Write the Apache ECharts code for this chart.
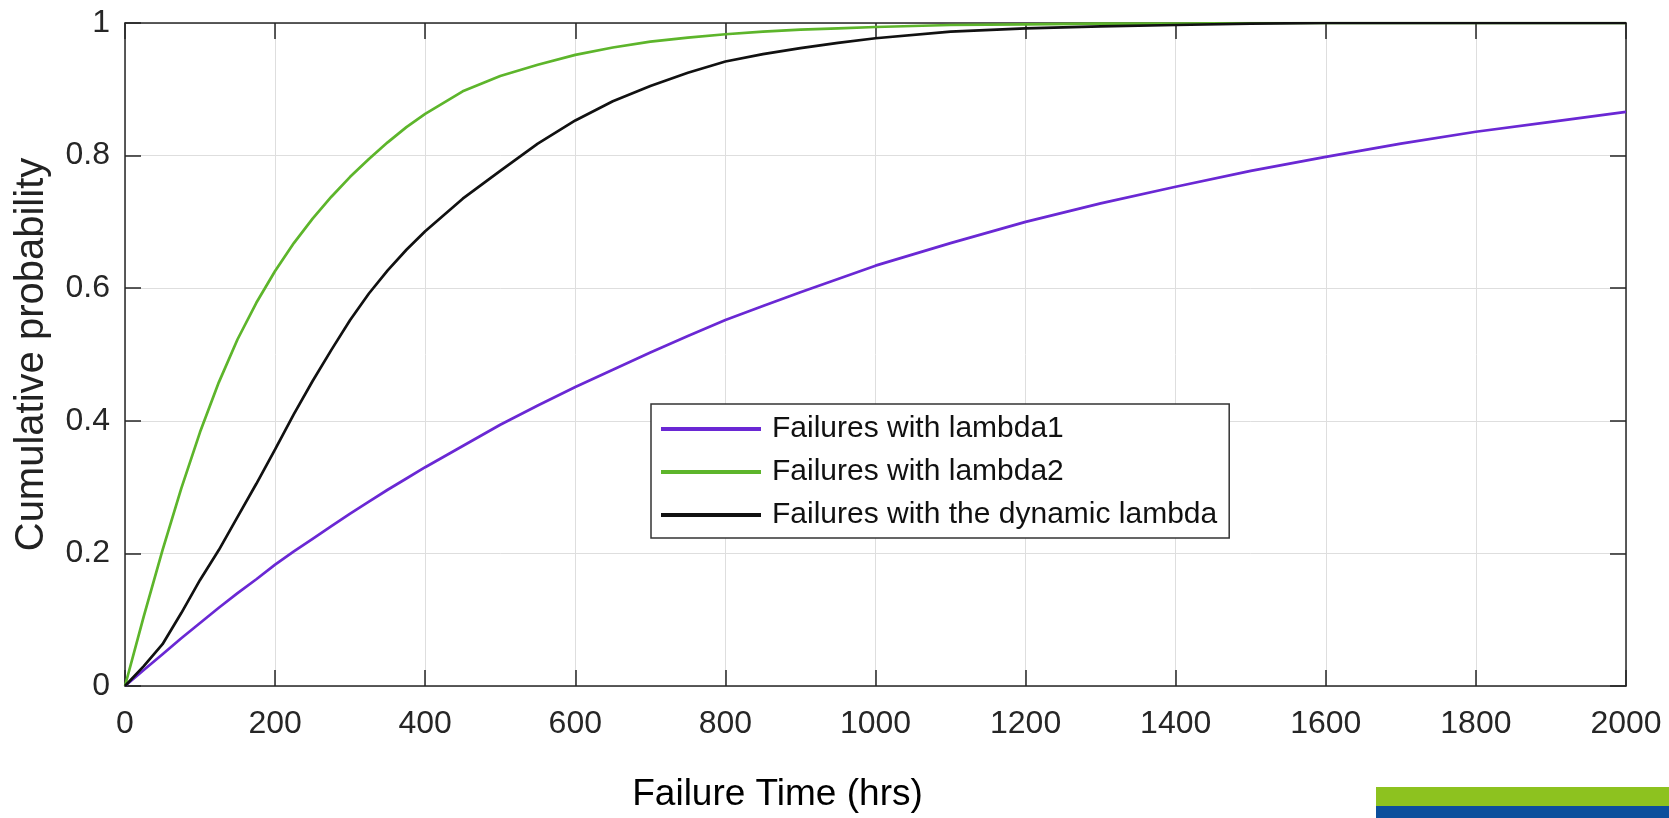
<!DOCTYPE html>
<html style="height: 100%">
    <head>
        <meta charset="utf-8">
        <script src="https://cdn.jsdelivr.net/npm/echarts@6/dist/echarts.min.js"></script>
    </head>
    <body style="height: 100%; margin: 0; background: #fff;">
        <div id="main" style="width: 1669px; height: 818px;"></div>
        <script>
        // failure time grid (hrs) and the three cumulative curves
        var hours = [0, 25, 50, 75, 100, 125, 150, 175, 200, 225, 250, 275, 300, 325, 350, 375, 400,
            450, 500, 550, 600, 650, 700, 750, 800, 850, 900, 950, 1000,
            1100, 1200, 1300, 1400, 1500, 1600, 1700, 1800, 1900, 2000];
        var lambda1 = [0, 0.024, 0.048, 0.072, 0.095, 0.118, 0.14, 0.161, 0.183, 0.203, 0.222, 0.241, 0.26, 0.278, 0.296, 0.313, 0.33,
            0.362, 0.394, 0.423, 0.451, 0.477, 0.503, 0.528, 0.552, 0.573, 0.594, 0.614, 0.634,
            0.668, 0.70, 0.728, 0.753, 0.777, 0.798, 0.818, 0.836, 0.851, 0.866];
        var lambda2 = [0, 0.105, 0.205, 0.298, 0.383, 0.458, 0.523, 0.578, 0.626, 0.668, 0.705, 0.738, 0.768, 0.795, 0.82, 0.843, 0.863,
            0.897, 0.92, 0.937, 0.952, 0.963, 0.972, 0.978, 0.983, 0.987, 0.99, 0.992, 0.994,
            0.997, 0.998, 0.999, 0.999, 1, 1, 1, 1, 1, 1];
        var dynamicLambda = [0, 0.03, 0.063, 0.11, 0.16, 0.205, 0.255, 0.305, 0.357, 0.41, 0.46, 0.507, 0.552, 0.592, 0.627, 0.658, 0.686,
            0.735, 0.777, 0.818, 0.853, 0.882, 0.905, 0.925, 0.942, 0.953, 0.962, 0.97, 0.977,
            0.987, 0.992, 0.995, 0.997, 0.999, 1, 1, 1, 1, 1];
        var seriesNames = ['Failures with lambda1', 'Failures with lambda2', 'Failures with the dynamic lambda'];

        var chart = echarts.init(document.getElementById('main'));

        function pairs(ys) {
            return hours.map(function (h, i) { return [h, ys[i]]; });
        }

        var font = 'Liberation Sans, Arial, sans-serif';
        var axisColor = '#262626';

        function frameAxis(extra) {
            var base = {
                type: 'value',
                axisLine: { show: true, onZero: false, lineStyle: { color: axisColor, width: 1.5 } },
                axisTick: { show: true, inside: true, length: 16, lineStyle: { color: axisColor, width: 1.5 } },
                axisLabel: { show: false },
                splitLine: { show: false }
            };
            return Object.assign(base, extra);
        }

        function plain(v) {
            return String(Math.round(v * 1000) / 1000);
        }

        var option = {
            animation: false,
            backgroundColor: '#fff',
            grid: { left: 125, right: 43, top: 23, bottom: 131 },
            legend: {
                orient: 'vertical',
                left: 651,
                top: 404,
                padding: [10, 12, 8, 10],
                itemWidth: 100,
                itemHeight: 4,
                itemGap: 13,
                icon: 'rect',
                backgroundColor: '#fff',
                borderColor: '#333',
                borderWidth: 1.5,
                borderRadius: 0,
                textStyle: { fontFamily: font, fontSize: 30, color: '#111', lineHeight: 30, padding: [0, 0, 0, 6] },
                data: seriesNames
            },
            xAxis: [
                frameAxis({
                    min: 0, max: 2000, interval: 200,
                    position: 'bottom',
                    axisLabel: { show: true, margin: 22, fontFamily: font, fontSize: 32, color: axisColor, formatter: plain },
                    splitLine: { show: true, lineStyle: { color: '#dedede', width: 1 } },
                    name: 'Failure Time (hrs)',
                    nameLocation: 'middle',
                    nameGap: 90,
                    nameTextStyle: { fontFamily: font, fontSize: 37, color: '#000', padding: [0, 196, 0, 0] }
                }),
                frameAxis({ min: 0, max: 2000, interval: 200, position: 'top' })
            ],
            yAxis: [
                frameAxis({
                    min: 0, max: 1, interval: 0.2,
                    position: 'left',
                    axisLabel: { show: true, margin: 15, fontFamily: font, fontSize: 32, color: axisColor, formatter: plain },
                    splitLine: { show: true, lineStyle: { color: '#dedede', width: 1 } },
                    name: 'Cumulative probability',
                    nameLocation: 'middle',
                    nameGap: 73,
                    nameTextStyle: { fontFamily: font, fontSize: 40, color: '#222' }
                }),
                frameAxis({ min: 0, max: 1, interval: 0.2, position: 'right' })
            ],
            graphic: [
                { type: 'rect', shape: { x: 1376, y: 787, width: 293, height: 19 }, style: { fill: '#8dc21f' } },
                { type: 'rect', shape: { x: 1376, y: 806, width: 293, height: 12 }, style: { fill: '#0b4f9c' } }
            ],
            series: [
                {
                    name: seriesNames[0], type: 'line', data: pairs(lambda1),
                    showSymbol: false, symbol: 'none', color: '#6a28d4',
                    lineStyle: { width: 2.7, color: '#6a28d4' }
                },
                {
                    name: seriesNames[1], type: 'line', data: pairs(lambda2),
                    showSymbol: false, symbol: 'none', color: '#5db52b',
                    lineStyle: { width: 2.7, color: '#5db52b' }
                },
                {
                    name: seriesNames[2], type: 'line', data: pairs(dynamicLambda),
                    showSymbol: false, symbol: 'none', color: '#111111',
                    lineStyle: { width: 2.7, color: '#111111' }
                }
            ]
        };

        chart.setOption(option);
        </script>
    </body>
</html>
